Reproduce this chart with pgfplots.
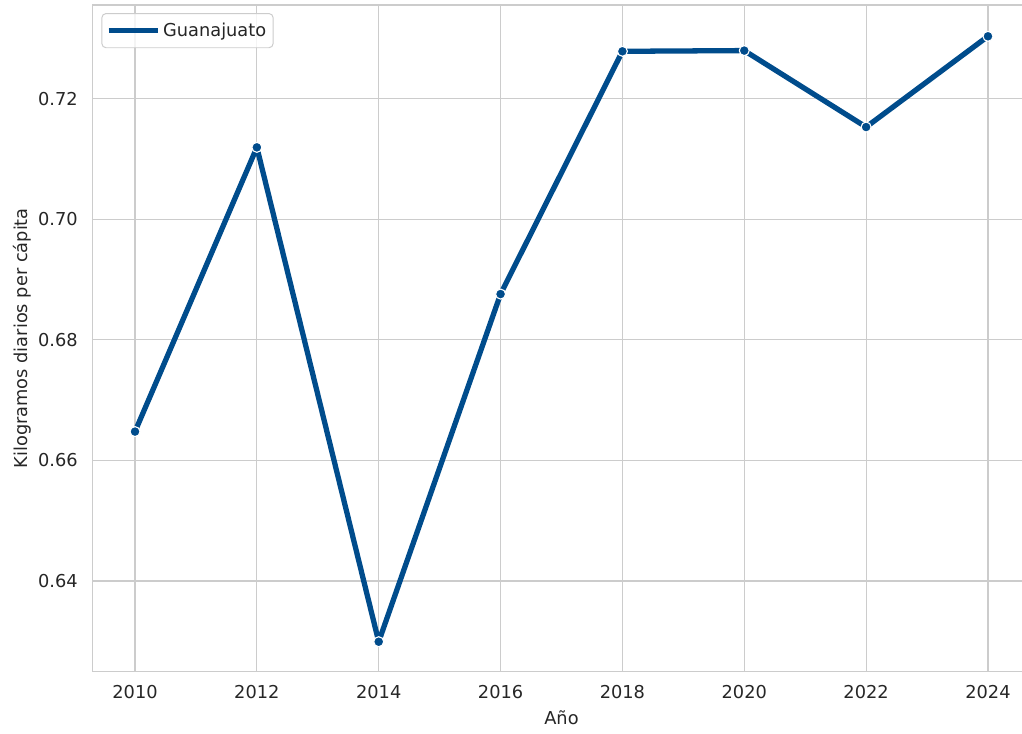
\documentclass[border=0pt]{standalone}
\usepackage{pgfplots}
\pgfplotsset{compat=1.18}
\usepackage{fontspec}
\setmainfont{DejaVu Sans}
\definecolor{lineblue}{HTML}{004C8C}
\definecolor{gridgray}{HTML}{CCCCCC}
\definecolor{txt}{HTML}{262626}
\newcommand\chartfont{\fontsize{12.8pt}{15pt}\selectfont}
\begin{document}
\begin{tikzpicture}
\begin{axis}[
  scale only axis,
  width=675.5pt, height=479.9pt,
  xmin=2009.3, xmax=2024.7,
  ymin=0.62498, ymax=0.73553,
  xtick={2010,2012,2014,2016,2018,2020,2022,2024},
  ytick={0.64,0.66,0.68,0.70,0.72},
  major tick length=0pt,
  grid=major,
  major grid style={draw=gridgray, line width=0.8pt},
  axis line style={draw=gridgray, line width=0.9pt},
  /pgf/number format/assume math mode=true,
  /pgf/number format/set thousands separator={},
  yticklabel={\pgfmathprintnumber[fixed,fixed zerofill,precision=2]{\tick}},
  every tick label/.append style={font=\chartfont, text=txt, inner sep=0pt},
  xticklabel style={anchor=north, yshift=-9.6pt},
  yticklabel style={anchor=east, xshift=-10.4pt},
  xlabel={Año},
  ylabel={Kilogramos diarios per cápita},
  xlabel style={font=\chartfont, text=txt, inner sep=0pt, anchor=base, at={([yshift=-38.4pt]axis description cs:0.5,0)}},
  ylabel style={font=\chartfont, text=txt, inner sep=0pt, rotate=0, anchor=north, at={([xshift=-57.2pt]axis description cs:0,0.5)}},
  legend style={at={(rel axis cs:0,1)}, anchor=north west, xshift=6.5pt, yshift=-5.8pt,
    draw=gridgray, line width=0.7pt, rounded corners=3pt, fill=white, fill opacity=0.8, text opacity=1,
    font=\chartfont, text=txt, inner xsep=3pt, inner ysep=4.7pt},
  legend cell align=left,
  legend image code/.code={\draw[line width=2.4pt, lineblue] (0pt,0pt) -- (28.8pt,0pt); \path (0pt,0pt) -- (35.3pt,0pt);},
]
\addplot[color=lineblue, line width=3.8pt, line join=round,
  mark=*, mark size=3.6pt, mark options={fill=lineblue, draw=white, line width=0.8pt}]
  coordinates {
  (2010,0.66478) (2012,0.71192) (2014,0.62993) (2016,0.68759)
  (2018,0.72785) (2020,0.72797) (2022,0.71529) (2024,0.73034)
  };
\addlegendentry{Guanajuato}
\end{axis}
\pgfresetboundingbox
\path[use as bounding box] ([xshift=-66.5pt,yshift=-44.9pt]current axis.south west) rectangle ([xshift=-6.2pt,yshift=3.6pt]current axis.north east);
\end{tikzpicture}
\end{document}
